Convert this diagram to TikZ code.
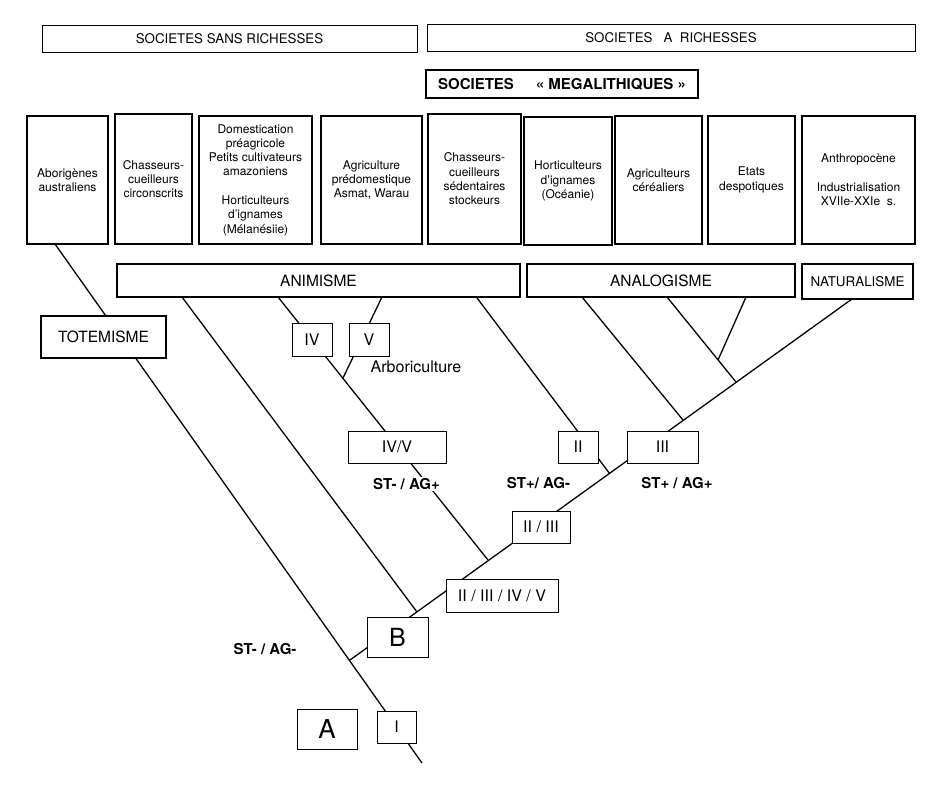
\documentclass[tikz,border=0pt]{standalone}
\usepackage{fontspec}
\setmainfont{TeX Gyre Heros}
\tikzset{
	head/.style={draw, line width=0.9pt, minimum height=27pt, inner sep=0pt,
		font=\fontsize{13.3}{15}\selectfont},
	mega/.style={draw, line width=2.4pt, minimum height=28pt, inner sep=0pt,
		font=\bfseries\fontsize{15}{17}\selectfont},
	col/.style={draw, line width=1.8pt, minimum height=128pt, inner sep=0pt,
		align=center, font=\fontsize{12}{14.3}\selectfont},
	rel/.style={draw, line width=2.6pt, fill=white, minimum height=33pt, inner sep=0pt,
		font=\fontsize{15.5}{18}\selectfont},
	cls/.style={draw, line width=1pt, fill=white, minimum height=32pt, inner sep=0pt,
		font=\fontsize{16}{18}\selectfont},
	st/.style={fill=white, inner sep=1.5pt, font=\bfseries\fontsize{15}{17}\selectfont},
}

\begin{document}
\begin{tikzpicture}[x=1pt, y=-1pt, line width=1.3pt]
\useasboundingbox (0,0) rectangle (945,796);

% the points
\coordinate (abo1) at (55,244);
\coordinate (root) at (422,763);
\coordinate (jb) at (350,660);
\coordinate (nat1) at (852,299);
\coordinate (anim1) at (182,297);
\coordinate (anim2) at (278,297);
\coordinate (anim3) at (382,297);
\coordinate (anim4) at (477,298);
\coordinate (ana1) at (582,297);
\coordinate (ana2) at (667,297);
\coordinate (ana3) at (746,297);
\coordinate (jiiiiv) at (417,612);
\coordinate (jivv) at (488,560);
\coordinate (jv) at (343,378);
\coordinate (jii) at (610,474);
\coordinate (jiii) at (683,420);
\coordinate (jana) at (736,382);
\coordinate (jana2) at (718,360);

% the lines (the boxes are drawn over them)
\draw (abo1) -- (root);
\draw (jb) -- (nat1);
\draw (anim1) -- (jiiiiv);
\draw (anim2) -- (jivv);
\draw (anim3) -- (jv);
\draw (anim4) -- (jii);
\draw (ana1) -- (jiii);
\draw (ana2) -- (jana);
\draw (ana3) -- (jana2);

% the headers
\node[head, minimum width=375pt] (sans) at (229.5,38.5) {SOCIETES SANS RICHESSES};
\node[head, minimum width=488pt] (riches) at (671,37.5) {SOCIETES\ \ \ A\ \ RICHESSES};
\node[mega, minimum width=272pt] (megal) at (562,84) {SOCIETES\hspace{22pt}« MEGALITHIQUES »};

% the societies
\node[col, minimum width=81pt] (abo) at (67.5,180) {Aborigènes\\australiens};
\node[col, minimum width=77pt, minimum height=130pt] (circ) at (153.5,179) {Chasseurs-\\cueilleurs\\circonscrits};
\node[col, minimum width=113pt] (dom) at (255.5,180) {Domestication\\préagricole\\Petits cultivateurs\\amazoniens\\[14.3pt]Horticulteurs\\d'ignames\\(Mélanésiie)};
\node[col, minimum width=101pt] (agri) at (371.5,180) {Agriculture\\prédomestique\\Asmat, Warau};
\node[col, minimum width=93pt, minimum height=130pt] (sed) at (474.5,179) {Chasseurs-\\cueilleurs\\sédentaires\\stockeurs};
\node[col, minimum width=88pt] (oce) at (568,181) {Horticulteurs\\d'ignames\\(Océanie)};
\node[col, minimum width=87pt] (cer) at (658.5,180) {Agriculteurs\\céréaliers};
\node[col, minimum width=87pt] (etat) at (751.5,180) {Etats\\despotiques};
\node[col, minimum width=113pt] (anth) at (858.5,180) {Anthropocène\\[14.3pt]Industrialisation\\XVIIe-XXIe\ \ s.};

% the ontologies
\node[rel, minimum width=403pt] (anim) at (318.5,280.5) {ANIMISME};
\node[rel, minimum width=268pt] (analog) at (661,280.5) {ANALOGISME};
\node[rel, minimum width=111pt, minimum height=35pt, font=\fontsize{13.4}{15}\selectfont] (natur) at (857.5,281.5) {NATURALISME};
\node[rel, minimum width=125pt, minimum height=42pt] (totem) at (103.5,337) {TOTEMISME};

% the classes
\node[cls, minimum width=40pt, minimum height=33pt] (iv) at (312,339.5) {IV};
\node[cls, minimum width=40pt, minimum height=33pt] (v) at (369,339.5) {V};
\node[font=\fontsize{16}{18}\selectfont] (arbo) at (416,367) {Arboriculture};
\node[cls, minimum width=98pt] (ivv) at (397,447) {IV/V};
\node[cls, minimum width=40pt] (ii) at (578,447) {II};
\node[cls, minimum width=71pt] (iii) at (662.5,447) {III};
\node[cls, minimum width=58pt] (iiiii) at (541,527) {II / III};
\node[cls, minimum width=112pt, minimum height=33pt] (all) at (502,595.5) {II / III / IV / V};
\node[cls, minimum width=61pt, minimum height=40pt, font=\fontsize{25}{28}\selectfont] (b) at (397.5,637) {B};
\node[cls, minimum width=60pt, minimum height=40pt, font=\fontsize{26}{28}\selectfont] (a) at (327,729) {A};
\node[cls, minimum width=39pt] (i) at (396.5,727) {I};

% the labels
\node[st] (stmagp) at (406.5,484) {ST- / AG+};
\node[st] (stpagm) at (538.5,483) {ST+/ AG-};
\node[st] (stpagp) at (677,483) {ST+ / AG+};
\node[st] (stmagm) at (265,649) {ST- / AG-};

\end{tikzpicture}
\end{document}
